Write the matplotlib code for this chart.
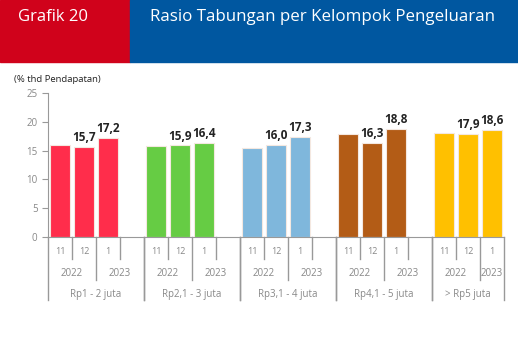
import matplotlib.pyplot as plt
from matplotlib.patches import Rectangle
import matplotlib.transforms as mtransforms

plt.rcParams['font.family'] = ['Open Sans', 'DejaVu Sans']

# data
groups = ['Rp1 - 2 juta', 'Rp2,1 - 3 juta', 'Rp3,1 - 4 juta', 'Rp4,1 - 5 juta', '> Rp5 juta']
months = ['11', '12', '1']
years = ['2022', '2023']
values = [
    [15.9, 15.7, 17.2],
    [15.8, 15.9, 16.4],
    [15.4, 16.0, 17.3],
    [17.8, 16.3, 18.8],
    [18.0, 17.9, 18.6],
]
labels = [
    [None, '15,7', '17,2'],
    [None, '15,9', '16,4'],
    [None, '16,0', '17,3'],
    [None, '16,3', '18,8'],
    [None, '17,9', '18,6'],
]
colors = ['#FF2D4B', '#66CC44', '#7FB7DC', '#B35C16', '#FFC000']

W, H = 518, 357
fig = plt.figure(figsize=(W / 100, H / 100), dpi=100)

# header boxes
fig.patches.append(Rectangle((0, 1 - 62 / H), 130 / W, 62 / H, transform=fig.transFigure,
                             color='#D0021B', zorder=0))
fig.patches.append(Rectangle((130 / W, 1 - 62 / H), 1 - 130 / W, 62 / H, transform=fig.transFigure,
                             color='#0057A0', zorder=0))
fig.text(18 / W, 1 - 17 / H, 'Grafik 20', color='white', fontsize=12, va='center', ha='left')
fig.text(150 / W, 1 - 17 / H, 'Rasio Tabungan per Kelompok Pengeluaran', color='white',
         fontsize=12.2, va='center', ha='left')
fig.text(14 / W, 1 - 80 / H, '(% thd Pendapatan)', color='#222222', fontsize=6.8,
         va='center', ha='left')

ax = fig.add_axes([48 / W, 120 / H, 456 / W, 144 / H])
ax.set_xlim(0, 19)
ax.set_ylim(0, 25)

gray = '#999999'
trans = mtransforms.blended_transform_factory(ax.transData, ax.transAxes)
ph = 144.0

pos = 0
for g, name in enumerate(groups):
    start = pos
    for m in range(3):
        x = pos + m + 0.5
        ax.bar(x, values[g][m], width=0.8, color=colors[g], edgecolor='#F4E8E0', linewidth=0.8)
        if labels[g][m]:
            ax.text(x, values[g][m] + 0.5, labels[g][m], ha='center', va='bottom',
                    fontsize=8.5, fontweight='bold', color='#222222')
        ax.text(x, -15 / ph, months[m], transform=trans, ha='center', va='center',
                fontsize=6.5, color='#888888')
    nslots = 4 if g < len(groups) - 1 else 3
    end = start + nslots
    # month separators
    for xs in (start + 1, start + 3):
        if xs < end:
            ax.plot([xs, xs], [0, -22 / ph], transform=trans, color=gray, lw=1, clip_on=False)
    # year separator
    ax.plot([start + 2, start + 2], [0, -43 / ph], transform=trans, color=gray, lw=1, clip_on=False)
    ax.text(start + 1, -36 / ph, years[0], transform=trans, ha='center', va='center',
            fontsize=7, color='#888888')
    ax.text((start + 2 + end) / 2, -36 / ph, years[1], transform=trans, ha='center', va='center',
            fontsize=7, color='#888888')
    # group separators
    for xs in (start, end):
        ax.plot([xs, xs], [0, -63 / ph], transform=trans, color=gray, lw=1, clip_on=False)
    ax.text((start + end) / 2, -58 / ph, name, transform=trans, ha='center', va='center',
            fontsize=7, color='#888888')
    pos = end

for s in ['top', 'right']:
    ax.spines[s].set_visible(False)
for s in ['left', 'bottom']:
    ax.spines[s].set_color(gray)
ax.set_xticks([])
ax.set_yticks([0, 5, 10, 15, 20, 25])
ax.tick_params(axis='y', colors=gray, labelcolor='#888888', labelsize=7, length=4, direction='out')

fig.savefig('out.png', dpi=100)
